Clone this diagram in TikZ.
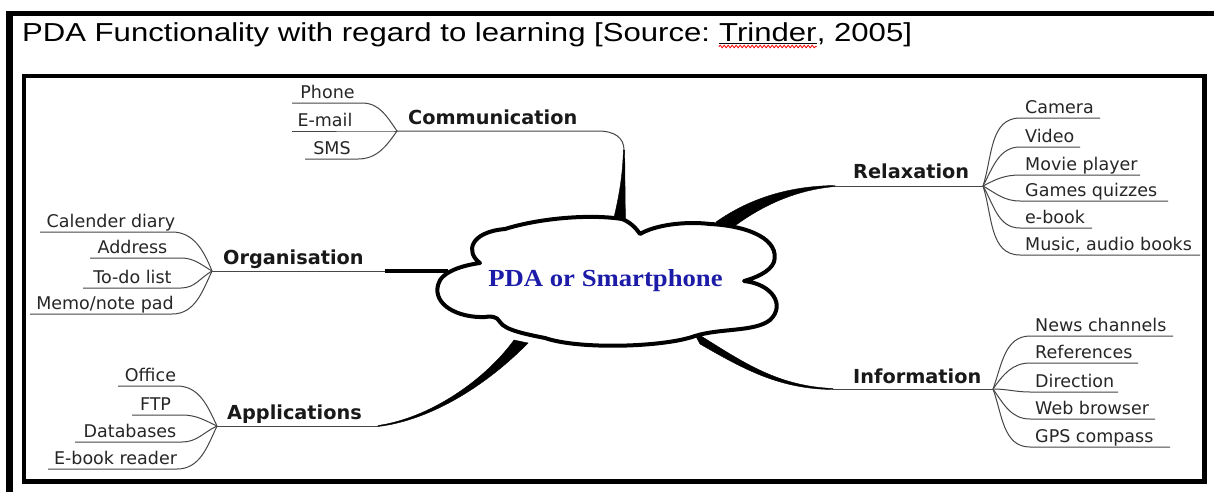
\documentclass[tikz,border=0pt]{standalone}
\usepackage{fontspec}
\setmainfont{Liberation Sans}
\newfontfamily\labelfont{DejaVu Sans}
\newfontfamily\cloudfont{Liberation Serif}
\usetikzlibrary{decorations.pathmorphing}

\definecolor{cloudblue}{RGB}{28,28,168}
\definecolor{twiggray}{RGB}{70,70,70}

\tikzset{
  frameline/.style={line width=4.5pt},
  twig/.style={draw=twiggray, line width=1pt},
  leaf/.style={font=\labelfont\fontsize{17.5}{20}\selectfont, text=black!85, inner sep=0pt, anchor=base},
  rleaf/.style={leaf, anchor=base west},
  topic/.style={font=\labelfont\bfseries\fontsize{19.3}{22}\selectfont, text=black!90, inner sep=0pt, anchor=base west},
  titletext/.style={font=\fontsize{26}{30}\selectfont, inner sep=0pt, anchor=base west},
  stem/.style={fill=black, draw=black, line width=0.4pt},
  cloudline/.style={draw=black, line width=4pt, fill=white, line join=round},
}

\begin{document}
\begin{tikzpicture}[x=1pt, y=-1pt]
\useasboundingbox (0,0) rectangle (1214,491);
\fill[white] (0,0) rectangle (1214,491);

% page frame
\draw[line width=7pt] (9.5,495) -- (9.5,11);
\draw[line width=5pt] (6,13.5) -- (1220,13.5);

% caption
\node[titletext] (t1) at (22,41) {\scalebox{1.196}[1]{PDA Functionality with regard to learning [Source:\ }};
\node[titletext] (t2) at (t1.base east) {\scalebox{1.196}[1]{Trinder}};
\node[titletext] (t3) at (t2.base east) {\scalebox{1.196}[1]{, 2005]}};
\draw[line width=1pt] ([yshift=-2.5pt]t2.base west) -- ([yshift=-2.5pt]t2.base east);
\draw[red, line width=0.8pt, decorate, decoration={snake, amplitude=1.3pt, segment length=4pt}]
  ([yshift=-5.5pt]t2.base west) -- ([yshift=-5.5pt]t2.base east);

% diagram frame
\draw[frameline] (24,76) rectangle (1204.5,481.5);

% junction points
\coordinate (JC) at (397,131);
\coordinate (JO) at (212,271);
\coordinate (JA) at (217,426);
\coordinate (JR) at (983,186);
\coordinate (JI) at (993,389);

% stems towards the cloud
\coordinate (commbend) at (624,150);
\draw[twig] (JC.center) -- (598,131) .. controls (615,131) and (624,138) .. (commbend.center);
\fill[stem] (623.4,150) .. controls (622.5,180) and (618,200) .. (613,222)
  -- (625.5,222) .. controls (625,195) and (625,170) .. (624.6,150) -- cycle;

\coordinate (orgthick) at (385,271);
\draw[twig] (JO.center) -- (orgthick.center);
\draw[line width=3.2pt] (orgthick.center) -- (448,271);

\coordinate (appsfoot) at (378,426);
\draw[twig] (JA.center) -- (appsfoot.center);
\fill[stem] (378,425.5) .. controls (430,418) and (485,380) .. (514,340)
  -- (528,343) .. controls (489,383) and (433,420) .. (378,426.5) -- cycle;

\coordinate (relaxfoot) at (835,186);
\draw[twig] (relaxfoot.center) -- (JR.center);
\fill[stem] (835,185.5) .. controls (790,186) and (750,198) .. (716,222)
  -- (728,231) .. controls (760,206) and (795,190) .. (835,186.5) -- cycle;

\coordinate (infofoot) at (833,389);
\draw[twig] (infofoot.center) -- (JI.center);
\fill[stem] (833,388.5) .. controls (775,386) and (740,360) .. (693,331)
  -- (700,344) .. controls (745,370) and (780,389) .. (833,389.5) -- cycle;

% central cloud
\draw[cloudline] (480,263)
  .. controls (465,252) and (470,232) .. (505,229)
  .. controls (540,218) and (590,214) .. (622,219)
  .. controls (630,222) and (636,228) .. (640,234)
  .. controls (655,225) and (685,221) .. (710,224)
  .. controls (750,226) and (780,240) .. (774,262)
  .. controls (770,272) and (755,278) .. (744,281)
  .. controls (772,284) and (786,305) .. (770,320)
  .. controls (755,332) and (720,328) .. (695,336)
  .. controls (665,347) and (580,350) .. (545,338)
  .. controls (525,334) and (505,330) .. (500,322)
  .. controls (497,316) and (490,316) .. (485,317)
  .. controls (458,318) and (433,305) .. (438,285)
  .. controls (441,271) and (465,265) .. (480,263) -- cycle;
\node[font=\cloudfont\bfseries\fontsize{24.5}{28}\selectfont, text=cloudblue, inner sep=0pt]
  (core) at (605.5,281) {\scalebox{1.09}[1]{PDA or Smartphone}};

% topic labels
\node[topic] (comm)  at (408,124) {Communication};
\node[topic] (org)   at (223,264) {Organisation};
\node[topic] (apps)  at (227,419) {Applications};
\node[topic] (relax) at (853,178) {Relaxation};
\node[topic] (info)  at (853,383) {Information};

% left-hand leaves: name/text/start/end/y/text centre/entry angle/junction
\foreach \nm/\txt/\xa/\xb/\yy/\xc/\ang/\jn in {
    phone/Phone/292/362/103/327.5/125/JC,
    email/E-mail/292/380/131/325/180/JC,
    sms/SMS/305/358/159/332/-125/JC,
    cal/Calender diary/40/172/232/111/112/JO,
    addr/Address/90/181/258/132.5/150/JO,
    todo/To-do list/83/181/288/132.5/-150/JO,
    memo/{Memo/note pad}/30/172/314/105/-115/JO,
    office/Office/118/177/386/150.5/115/JA,
    ftp/FTP/132/182/415/155.5/155/JA,
    db/Databases/75/182/442/130/-155/JA,
    ebk/E-book reader/48/177/469/115.5/-115/JA}
{
  \coordinate (\nm-a) at (\xa,\yy);
  \coordinate (\nm-b) at (\xb,\yy);
  \node[leaf] (\nm) at (\xc,\yy-5) {\txt};
  \draw[twig] (\nm-a.center) -- (\nm-b.center) to[out=0, in=\ang] (\jn.center);
}

% right-hand leaves: name/text/start/end/y/exit angle/junction
\foreach \nm/\txt/\xa/\xb/\yy/\ang/\jn in {
    camera/Camera/1020/1100/118/72/JR,
    video/Video/1020/1080/147/62/JR,
    movie/Movie player/1020/1140/175/28/JR,
    games/Games quizzes/1020/1168/201/-30/JR,
    ebook/e-book/1020/1092/228/-60/JR,
    music/{Music, audio books}/1020/1200/255/-72/JR,
    news/News channels/1030/1173/336/70/JI,
    refs/References/1030/1138/363/55/JI,
    dir/Direction/1030/1118/392/0/JI,
    web/Web browser/1030/1155/419/-55/JI,
    gps/GPS compass/1030/1170/447/-70/JI}
{
  \coordinate (\nm-a) at (\xa,\yy);
  \coordinate (\nm-b) at (\xb,\yy);
  \node[rleaf] (\nm) at (\xa+5,\yy-5) {\txt};
  \draw[twig] (\jn.center) to[out=\ang, in=180] (\nm-a.center) -- (\nm-b.center);
}
\end{tikzpicture}
\end{document}
